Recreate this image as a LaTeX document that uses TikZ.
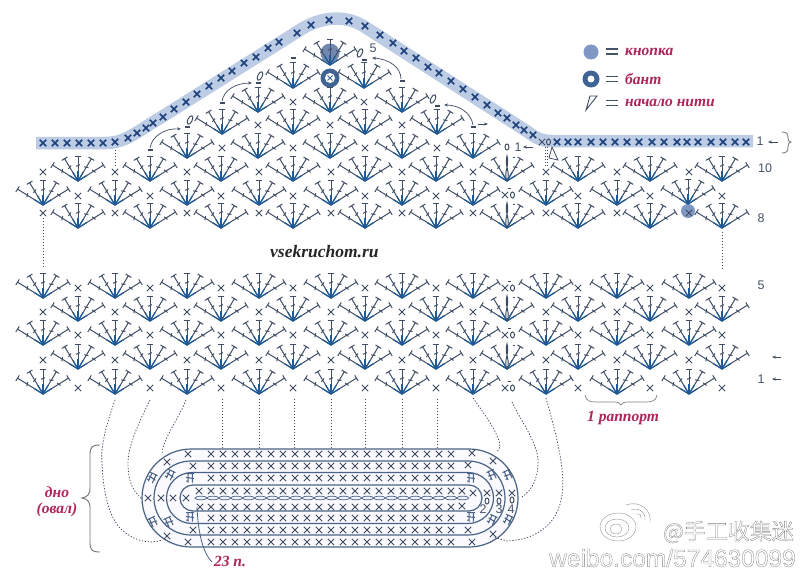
\documentclass[tikz,border=0pt]{standalone}
\usepackage{fontspec}
\setmainfont{Liberation Serif}
\newfontfamily\sansf{Liberation Sans}
\newfontfamily\cjkf{Noto Sans CJK SC}
\usetikzlibrary{arrows.meta}
\definecolor{bandc}{HTML}{BCCCE4}
\definecolor{navy}{HTML}{1D3F7A}
\definecolor{stitch}{HTML}{3E4A60}
\definecolor{fanc}{HTML}{414F66}
\definecolor{fanb}{HTML}{1F5A96}
\definecolor{ringc}{HTML}{4A6285}
\definecolor{redt}{HTML}{B0245A}
\definecolor{numc}{HTML}{46546A}
\definecolor{btn}{HTML}{7F97C2}
\definecolor{bowc}{HTML}{3F6494}
\definecolor{wm}{HTML}{8A8A8A}
\tikzset{
  fanline/.style={draw=fanc,line width=1pt},
  fanbase/.style={draw=fanb,line width=1.25pt},
  xmark/.style={draw=stitch,line width=0.95pt},
  xbold/.style={draw=navy,line width=1.6pt},
  dot/.style={draw=#1,line width=0.75pt,dash pattern=on 1.3pt off 1.7pt},
  dot/.default=stitch,
  arcl/.style={draw=stitch,line width=0.7pt,-{Stealth[length=4pt,width=3pt]}},
  ring/.style={draw=ringc,line width=1.2pt},
  redtext/.style={text=redt,font=\itshape\bfseries\fontsize{15.5}{17}\selectfont,inner sep=0pt},
  numtext/.style={text=numc,font=\sansf\fontsize{12.5}{14}\selectfont,inner sep=0pt},
  bracec/.style={draw=#1,line width=0.9pt},
  fanst/.pic={
    \foreach \a/\l in {-58/30,-31/26,31/26,58/30,0/25}{
      \begin{scope}[rotate=\a]
        \draw[fanline] (0,0)--(0,-\l);
        \draw[fanline] (-3.3,-\l)--(3.3,-\l);
        \draw[fanline] (-2,-\l*0.62+0.8)--(2,-\l*0.62-0.8);
        \draw[fanbase] (0,0)--(0,-10);
      \end{scope}}
  },
  fanov/.pic={
    \foreach \a/\l in {-58/30,-31/26,31/26,58/30}{
      \begin{scope}[rotate=\a]
        \draw[fanline] (0,0)--(0,-\l);
        \draw[fanline] (-3.3,-\l)--(3.3,-\l);
        \draw[fanline] (-2,-\l*0.62+0.8)--(2,-\l*0.62-0.8);
        \draw[fanbase] (0,0)--(0,-10);
      \end{scope}}
    \draw[fanline] (0,0) .. controls (-4,-8) and (3,-16) .. (0,-25) .. controls (-3,-16) and (4,-8) .. (0,0);
    \fill[fanc] (6,-24.5) rectangle (8,-23.5);
  },
  dblst/.pic={
    \draw[draw=ringc,line width=1pt] (-4,-4.5)--(4,-4.5) (-2,-4.5)--(-2,4.5) (2.4,-4.5)--(2.4,4.5) (-4,-0.6)--(4,0.6) (-4,3)--(-2,3);
  }
}
\newcommand\xm[2]{\draw[xmark] (#1-3.2,#2-3.2)--(#1+3.2,#2+3.2) (#1-3.2,#2+3.2)--(#1+3.2,#2-3.2);}
\newcommand\xb[2]{\draw[xbold] (#1-3.2,#2-3.2)--(#1+3.2,#2+3.2) (#1-3.2,#2+3.2)--(#1+3.2,#2-3.2);}
\newcommand\zr[2]{\draw[xmark] (#1,#2) ellipse [x radius=2,y radius=3];}
\newcommand\xz[1]{\xm{505}{#1}\zr{512.5}{#1}\fill[stitch] (508,#1-7.5) rectangle (510.5,#1-6.5);}
\newcommand\dsh[2]{\draw[draw=stitch,line width=1.6pt] (#1-2.5,#2)--(#1+2.5,#2);}
\newcommand\ovl[2]{\draw[xmark,rotate around={-25:(#1,#2)}] (#1,#2) ellipse [x radius=2.2,y radius=4.6];}
\newcommand\track[4]{%
 \draw[ring] (#2,#4-#1) -- (#3,#4-#1) .. controls (#3+0.5523*#1,#4-#1) and (#3+#1,#4-0.5523*#1) .. (#3+#1,#4)
 .. controls (#3+#1,#4+0.5523*#1) and (#3+0.5523*#1,#4+#1) .. (#3,#4+#1) -- (#2,#4+#1)
 .. controls (#2-0.5523*#1,#4+#1) and (#2-#1,#4+0.5523*#1) .. (#2-#1,#4)
 .. controls (#2-#1,#4-0.5523*#1) and (#2-0.5523*#1,#4-#1) .. (#2,#4-#1) -- cycle;}
\def\Alist{43,115,187,259,331,402,473,546,617,689}
\def\Blist{78,150,221,293,365,436,578,650,722}
\begin{document}
\begin{tikzpicture}[x=1pt,y=-1pt]
\useasboundingbox (0,0) rectangle (800,578);
\fill[white] (0,0) rectangle (800,578);

% band
\draw[draw=bandc,line width=12.5pt] (36,143) -- (105,143) .. controls (125,143) and (135,133) .. (160,118) -- (300,30)
  .. controls (320,17) and (345,14) .. (365,27) -- (528,132) .. controls (535,137) and (540,141) .. (552,141) -- (753,141);
\foreach \x/\y in {43/143,55/143,67/143,79/143,91/143,103/143,115/142,128/138,137/133,146/128,153/123,163/117,
  174/109,186/102,197/94,209/86,221/78,232/71,244/63,256/57,268/48,279/42,297/33,311/25,329/20,349/21,365/26,380/35,
  393/43,404/51,416/58,428/67,439/73,451/81,463/89,475/97,487/105,498/113,507/118,516/125,524/130,533/135,
  557/142,568/142,578/142,591/142,603/142,615/142,627/142,639/142,652/142,664/142,677/142,687/142,698/142,711/142,723/142,735/142,746/142}
  {\xb{\x}{\y}}
\xm{542}{142}\zr{548.5}{142}

% top button and bow
\fill[btn!90!black] (330,53) circle [radius=9.5];
\fill[btn] (688,211) circle [radius=7];
\fill[bowc] (330,78) circle [radius=9.5];
\fill[white] (330,78) circle [radius=5];
\draw[draw=bowc,line width=1pt] (327.5,75.5)--(332.5,80.5) (327.5,80.5)--(332.5,75.5);

% fans: lower block
\foreach \y in {298,345,394}{\foreach \x in \Alist {\pic at (\x,\y) {fanst};}}
\foreach \y in {321,369}{\foreach \x in \Blist {\pic at (\x,\y) {fanst};}\pic at (507,\y) {fanov};}
% fans: upper block
\foreach \x in \Alist {\ifnum\x<689 \pic at (\x,205) {fanst};\else\pic at (688,204) {fanst};\fi}
\foreach \y in {181,228}{\foreach \x in \Blist {\pic at (\x,\y) {fanst};}\pic at (507,\y) {fanov};}
\foreach \x in {187,258,330,402,473}{\pic at (\x,158) {fanst};}
\foreach \x in {222,293,365,437}{\pic at (\x,134) {fanst};}
\foreach \x in {258,330,402}{\pic at (\x,112) {fanst};}
\foreach \x in {293,364}{\pic at (\x,88) {fanst};}
\pic at (330,65) {fanst};

% x marks, lower block
\foreach \y in {288,335,388}{\foreach \x in \Blist {\xm{\x}{\y}}\xz{\y}}
\foreach \y in {312,360}{\foreach \x in \Alist {\xm{\x}{\y}}}
% x marks, upper block
\foreach \x in \Alist {\xm{\x}{213}\xm{\x}{172}}
\foreach \x in \Blist {\xm{\x}{196}}
\xz{195}
\foreach \x in {222,293,365,437}{\xm{\x}{148}}
\foreach \x in {258,330,402}{\xm{\x}{125}}
\foreach \x in {293,364}{\xm{\x}{102}}

% dashes, small ovals and arcs near the peak
\foreach \x/\y in {150/150,187/127,222/103,258/83,293/58,364/60,402/81,437/106,473/127}{\dsh{\x}{\y}}
\ovl{190}{120}\ovl{260}{76}\ovl{360}{53}\ovl{433}{99}
\zr{507}{147}
\draw[arcl] (150,148) .. controls (152,136) and (165,128) .. (181,129);
\draw[arcl] (222,101) .. controls (224,90) and (236,83) .. (252,83);
\draw[arcl] (401,79) .. controls (401,68) and (390,59) .. (372,58);
\draw[arcl] (473,125) .. controls (471,112) and (458,105) .. (444,105);
\draw[arcl] (478,124) -- (488,124);

% dotted verticals
\draw[dot] (43,218)--(43,268);
\draw[dot] (722,232)--(722,269);
\draw[dot] (115,150)--(115,167);
\draw[dot] (545,147)--(545,166);
\draw[dot] (547.5,147)--(547.5,166);
\draw[draw=stitch,line width=0.8pt] (549,158)--(552,147)--(558,160)--cycle;

% oval base
\fill[blue!2!white] (190,449) -- (470,449) .. controls (497,449) and (519,471) .. (519,498) .. controls (519,525) and (497,547) .. (470,547) -- (190,547) .. controls (163,547) and (142,525) .. (142,498) .. controls (142,471) and (163,449) .. (190,449) -- cycle;
\track{49}{191}{469}{498}
\track{37}{191}{468}{498}
\track{25.5}{192}{468}{498}
\track{13}{193}{469}{498}
\foreach \k in {0,...,22}{\draw[draw=ringc,fill=blue!5!white,line width=0.7pt] (201+\k*11.9,498) ellipse [x radius=6,y radius=1.8];}
\foreach \y in {454,466,478,491,507,518,530,542}{\foreach \k in {0,...,20}{\xm{211+\k*12}{\y}}}
\foreach \x/\y in {199/491,462/491,200/507,462/506,193/466,468/465,188/454,472/453,193/530,468/530,188/542,472/542,
   148/498,161/498,173/498,186/498,167/462,167/536,493/461,493/534,473/493,487/493,499/493,512/493}{\xm{\x}{\y}}
\foreach \x/\y in {487/501,499/501,512/500}{\zr{\x}{\y}}
\foreach \x/\y/\a in {190/478/0,190/517/0,471/478/0,471/517/0,152/478/-25,170/475/-25,153/522/25,169/522/25,508/475/25,492/475/25,492/520/-25,508/520/-25}{\pic[rotate=\a] at (\x,\y) {dblst};}
\node[numtext] (n2) at (483,509) {2};
\node[numtext] (n3) at (499,509) {3};
\node[numtext] (n4) at (511,509) {4};

% dotted links to the oval
\draw[dot] (115,400) .. controls (108,420) and (100,445) .. (102,463) .. controls (103,490) and (108,515) .. (120,528) .. controls (132,540) and (148,545) .. (162,540);
\draw[dot] (150,400) .. controls (140,420) and (128,445) .. (128,463) .. controls (128,480) and (132,490) .. (141,498);
\draw[dot] (186,400) .. controls (178,420) and (162,440) .. (162,455);
\foreach \x in {222,259,294,331,365,402,437}{\draw[dot] (\x,399)--(\x,448);}
\draw[dot] (473,398) .. controls (485,415) and (500,435) .. (500,447) -- (497,452);
\draw[dot] (512,402) .. controls (520,420) and (540,445) .. (538,465) .. controls (537,480) and (532,490) .. (522,497);
\draw[dot] (546,398) .. controls (555,430) and (566,470) .. (562,495) .. controls (558,525) and (535,540) .. (507,541) -- (493,537);

% left brace and 23 p.
\draw[bracec=gray!90!black] (100,445) .. controls (92,445) and (90,447) .. (90,455) -- (90,488) .. controls (90,495) and (87,497) .. (82,498) .. controls (87,499) and (90,501) .. (90,508) -- (90,542) .. controls (90,550) and (92,552) .. (100,552);
\node[redtext] (dno) at (57,492) {дно};
\node[redtext] (oval) at (57,510) {(овал)};
\draw[draw=ringc,line width=0.8pt] (197,507) .. controls (198,530) and (202,552) .. (212,562);
\node[redtext] (p23) at (230,561) {23 п.};

% legend
\fill[btn] (591,52) circle [radius=7.5];
\fill[bowc] (591,79) circle [radius=8.5];
\fill[white] (591,79) circle [radius=3.5];
\draw[draw=stitch,line width=0.9pt] (586,110)--(597,96)--(590,96)--cycle;
\foreach \y/\t/\n in {52/кнопка/la,79/бант/lb,103/начало нити/lc}{
  \fill[numc] (606,\y-3.5) rectangle (618,\y-2.2);
  \fill[numc] (606,\y+1.5) rectangle (618,\y+2.8);
  \node[redtext,anchor=west] (\n) at (625,\y) {\t};}

\node[anchor=west,inner sep=0pt,text=black!85,font=\itshape\bfseries\fontsize{17.5}{19}\selectfont] (site) at (270,252) {vsekruchom.ru};

% row numbers
\node[numtext] (r1a) at (760,141) {1};
\draw[arcl] (778,142)--(768,142);
\draw[bracec=gray] (782,132) .. controls (787,132) and (788,134) .. (788,138) .. controls (788,141) and (789,142) .. (791,142) .. controls (789,142) and (788,144) .. (788,147) .. controls (788,151) and (787,153) .. (782,153);
\node[numtext] (r10) at (765,168) {10};
\node[numtext] (r8) at (761,218) {8};
\node[numtext] (r5) at (761,285) {5};
\draw[arcl] (781,357)--(772,357);
\node[numtext] (r1b) at (761,379) {1};
\draw[arcl] (781,379)--(772,379);
\node[numtext] (r1c) at (518,147) {1};
\draw[arcl] (533,147)--(523,147);
\node[numtext] (r5b) at (373,48) {5};

% rapport brace
\draw[bracec=gray,line width=0.7pt] (585,395) .. controls (586,401) and (590,402) .. (596,402) -- (614,402) .. controls (618,402) and (620,403) .. (621,405) .. controls (622,403) and (624,402) .. (628,402) -- (646,402) .. controls (652,402) and (656,401) .. (657,395);
\node[redtext] (rap) at (623,418) {1 раппорт};

% watermark
\begin{scope}[draw=wm,line width=0.35pt]
\draw (618,527) ellipse [x radius=18,y radius=14];
\draw (617,528) ellipse [x radius=12,y radius=9];
\draw (616,529) ellipse [x radius=6,y radius=5];
\draw (626,505) .. controls (640,500) and (652,510) .. (650,522);
\draw (631,510) .. controls (640,507) and (646,513) .. (645,520);
\draw (636,514) .. controls (640,513) and (642,516) .. (641,518);
\end{scope}
\node[anchor=east,inner sep=0pt,font=\cjkf\fontsize{22}{24}\selectfont] (wa) at (794,532) {\special{pdf:code 1 Tr 0.3 w 0.5 G}@手工收集迷\special{pdf:code 0 Tr 0 G}};
\node[anchor=east,inner sep=0pt,font=\sansf\fontsize{24.5}{26}\selectfont] (wb) at (796,558) {\special{pdf:code 1 Tr 0.3 w 0.5 G}weibo.com/574630099\special{pdf:code 0 Tr 0 G}};
\end{tikzpicture}
\end{document}
